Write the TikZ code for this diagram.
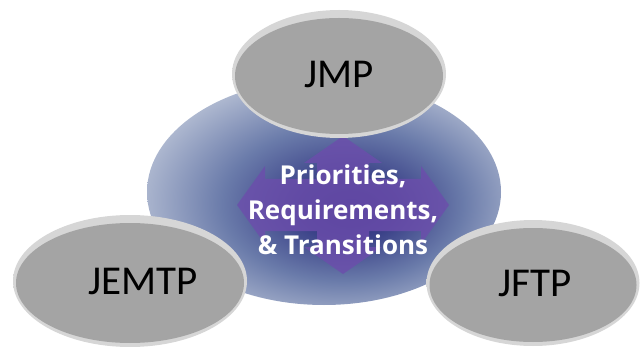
\documentclass[tikz,border=0pt]{standalone}
\usepackage{fontspec}
\setmainfont{Carlito}
\newfontfamily\hubfont{Open Sans}
\usetikzlibrary{shapes.geometric, calc}

\definecolor{hubdark}{HTML}{2A2D7C}
\definecolor{hubmid}{HTML}{6A7BAA}
\definecolor{hubedge}{HTML}{B0BAD1}
\definecolor{hubrim}{HTML}{D8DEEA}
\definecolor{ovalgray}{HTML}{A4A4A4}
\definecolor{ovallight}{HTML}{D6D6D6}
\definecolor{ovalmid}{HTML}{ABABAB}
\definecolor{arrowpurple}{HTML}{6C4DAC}

\pgfdeclareradialshading{hubglow}{\pgfpoint{4bp}{-4bp}}{color(0bp)=(hubdark); color(7bp)=(hubdark!75!hubmid); color(17bp)=(hubmid); color(28bp)=(hubedge); color(35bp)=(hubrim); color(50bp)=(hubrim)}

\tikzstyle{hub} = [ellipse, inner sep=0,
minimum width=354,
minimum height=226,
shading=hubglow]
\tikzstyle{oval} = [ellipse, inner sep=0,
top color=ovallight,
middle color=ovalmid,
bottom color=ovallight,
path picture={
  \fill[ovalgray] let \p1=(path picture bounding box.north east),
    \p2=(path picture bounding box.south west) in
    ($(path picture bounding box.center)+(0,2)$) ellipse [x radius={0.5*(\x1-\x2)-3pt}, y radius={0.5*(\y1-\y2)-6pt}];
}]
\tikzstyle{ovaltext} = [font=\fontsize{41}{48}\selectfont, text=black]
\tikzstyle{hubtext} = [font=\hubfont\bfseries\fontsize{26}{35}\selectfont, text=white, align=center]
\tikzstyle{quadarrow} = [fill=arrowpurple, fill opacity=0.8]

\begin{document}
\begin{tikzpicture}[x=1pt, y=-1pt]
  \useasboundingbox (0,0) rectangle (644,347);
  \node (hub) [hub] at (324,192) {};
  \coordinate (cross) at ($(hub.center)+(19,13)$);
  \fill[quadarrow, shift={(cross)}]
    (106,0) -- (78,-39) -- (78,-26) -- (26,-26) -- (26,-42) -- (39,-42)
    -- (0,-69) -- (-39,-42) -- (-26,-42) -- (-26,-26) -- (-78,-26) -- (-78,-39)
    -- (-106,0) -- (-78,39) -- (-78,26) -- (-26,26) -- (-26,42) -- (-39,42)
    -- (0,69) -- (39,42) -- (26,42) -- (26,26) -- (78,26) -- (78,39) -- cycle;
  \node (hublabel) [hubtext] at ($(cross)+(0,5)$) {Priorities,\\Requirements,\\\& Transitions};

  \node (jmp) [oval, minimum width=214, minimum height=128] at (339,74) {};
  \node (jemtp) [oval, minimum width=234, minimum height=132] at (130,281) {};
  \node (jftp) [oval, minimum width=213, minimum height=126] at (533,283) {};
  \node (jmplabel) [ovaltext] at (jmp) {JMP};
  \node (jemtplabel) [ovaltext] at ([xshift=13]jemtp.center) {JEMTP};
  \node (jftplabel) [ovaltext] at ([xshift=2]jftp.center) {JFTP};
\end{tikzpicture}
\end{document}
